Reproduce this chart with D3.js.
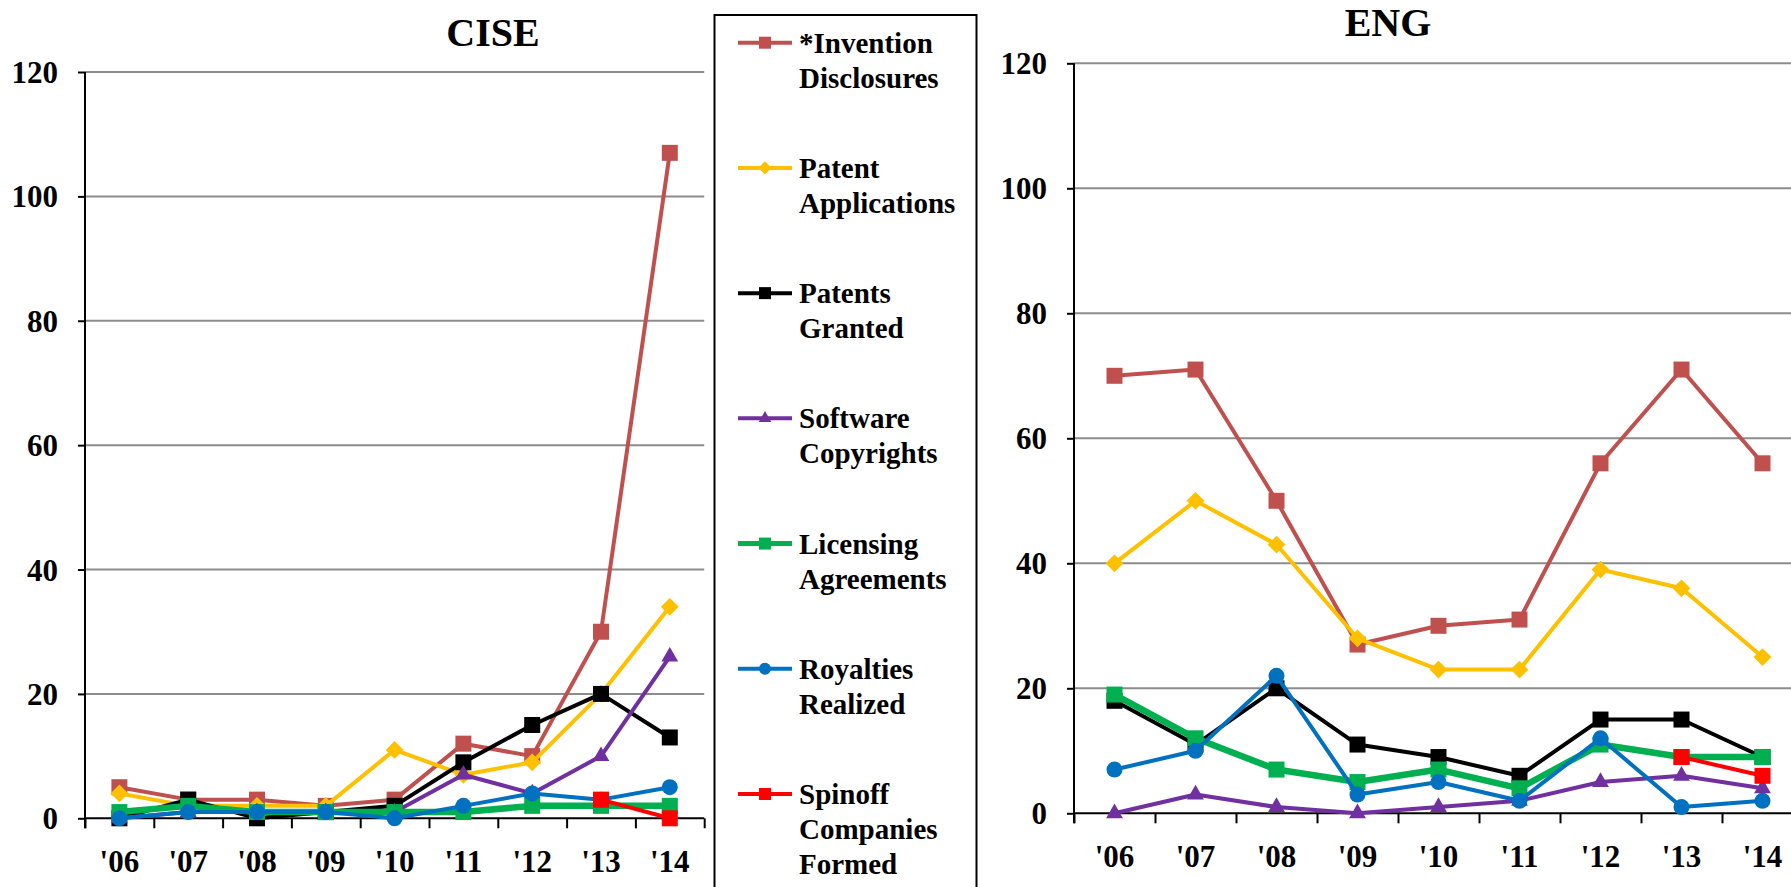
<!DOCTYPE html>
<html><head><meta charset="utf-8">
<script src="https://cdn.jsdelivr.net/npm/d3@7"></script>
<style>
body{margin:0;background:#fff;}
text{font-family:"Liberation Serif","Times New Roman",serif;font-weight:bold;fill:#000;}
</style>
</head><body>
<svg id="c" width="1791" height="887"></svg>
<script>
// ---------- data ----------
const years = ["'06","'07","'08","'09","'10","'11","'12","'13","'14"];
const yTicks = [0,20,40,60,80,100,120];
const seriesNames = [
  ["*Invention","Disclosures"],
  ["Patent","Applications"],
  ["Patents","Granted"],
  ["Software","Copyrights"],
  ["Licensing","Agreements"],
  ["Royalties","Realized"],
  ["Spinoff","Companies","Formed"]
];
const seriesColors = ["#C0504D","#FFC000","#000000","#7030A0","#00B050","#0070C0","#FF0000"];
const seriesMarkers = ["square","diamond","square","triangle","square","circle","square"];

const ciseInvention = [5,3,3,2,3,12,10,30,107];
const cisePatentApps = [4,2,2,2,11,7,9,20,34];
const cisePatentsGranted = [0,3,0,1,2,9,15,20,13];
const ciseSoftware = [0,1,1,1,1,7,4,10,26];
const ciseLicensing = [1,2,1,1,1,1,2,2,2];
const ciseRoyalties = [0,1,1,1,0,2,4,3,5];
const ciseSpinoff = [null,null,null,null,null,null,null,3,0];

const engInvention = [70,71,50,27,30,31,56,71,56];
const engPatentApps = [40,50,43,28,23,23,39,36,25];
const engPatentsGranted = [18,11,20,11,9,6,15,15,9];
const engSoftware = [0,3,1,0,1,2,5,6,4];
const engLicensing = [19,12,7,5,7,4,11,9,9];
const engRoyalties = [7,10,22,3,5,2,12,1,2];
const engSpinoff = [null,null,null,null,null,null,null,9,6];

const ciseSeries = [ciseInvention,cisePatentApps,cisePatentsGranted,ciseSoftware,ciseLicensing,ciseRoyalties,ciseSpinoff];
const engSeries = [engInvention,engPatentApps,engPatentsGranted,engSoftware,engLicensing,engRoyalties,engSpinoff];

// ---------- drawing ----------
const svg = d3.select("#c");

function markerPath(type, s) {
  if (type === "square") return d3.symbol(d3.symbolSquare, s*s)();
  if (type === "diamond") return d3.symbol(d3.symbolSquare, s*s*0.62)();
  if (type === "triangle") return d3.symbol(d3.symbolTriangle, Math.sqrt(3)/4*s*s*1.1)();
  if (type === "circle") return d3.symbol(d3.symbolCircle, Math.PI*(s/2)*(s/2))();
}
const lineWidths = [4,4,4,4,6.5,4,4];

function panel(cfg) {
  const g = svg.append("g");
  const x = d3.scaleBand().domain(years).range([cfg.x0, cfg.x1]).paddingInner(0).paddingOuter(0);
  const y = d3.scaleLinear().domain([0,120]).range([cfg.y0, cfg.yTop]);

  // gridlines
  g.append("g").selectAll("line").data(yTicks.filter(d=>d>0)).join("line")
    .attr("x1", cfg.x0).attr("x2", cfg.x1)
    .attr("y1", d=>y(d)).attr("y2", d=>y(d))
    .attr("stroke","#8c8c8c").attr("stroke-width",2);

  // y axis
  const ya = g.append("g").attr("transform",`translate(${cfg.x0},0)`)
    .call(d3.axisLeft(y).tickValues(yTicks).tickSize(7).tickPadding(20).tickSizeOuter(0));
  ya.select(".domain").attr("stroke","#000").attr("stroke-width",2)
    .attr("d", `M0,${cfg.y0+10}V${cfg.yTop}`);
  ya.selectAll(".tick line").attr("stroke","#000").attr("stroke-width",2);
  ya.selectAll(".tick text").attr("font-size",31).style("font-family",'"Liberation Serif",serif').style("font-weight","bold").attr("dy","0.34em");

  // x axis boundary ticks
  const xb = d3.scaleLinear().domain([0, years.length]).range([cfg.x0, cfg.x0 + x.step()*years.length]);
  const xa = g.append("g").attr("transform",`translate(0,${cfg.y0})`)
    .call(d3.axisBottom(xb).tickValues(d3.range(0, years.length+1)).tickSize(10).tickFormat(""));
  xa.select(".domain").attr("stroke","#000").attr("stroke-width",2)
    .attr("d", `M${cfg.x0},0H${cfg.x1}`);
  xa.selectAll(".tick line").attr("stroke","#000").attr("stroke-width",2);

  // x labels
  const xl = g.append("g").attr("transform",`translate(0,${cfg.y0})`)
    .call(d3.axisBottom(x).tickSize(0).tickPadding(30));
  xl.select(".domain").remove();
  xl.selectAll(".tick text").attr("font-size",31).style("font-family",'"Liberation Serif",serif').style("font-weight","bold").attr("dy","0.75em");

  // title
  g.append("text").attr("x", cfg.titleX).attr("y", cfg.titleY).attr("text-anchor","middle")
    .attr("font-size",40).text(cfg.title);

  // series
  cfg.series.forEach((vals, i) => {
    const pts = vals.map((v,j)=>({v, yr: years[j]}));
    const line = d3.line().defined(d=>d.v!=null)
      .x(d=>x(d.yr)+x.bandwidth()/2).y(d=>y(d.v));
    g.append("path").datum(pts).attr("d", line).attr("fill","none")
      .attr("stroke", seriesColors[i]).attr("stroke-width", lineWidths[i]).attr("stroke-linejoin","round");
    g.append("g").selectAll("path").data(pts.filter(d=>d.v!=null)).join("path")
      .attr("d", markerPath(seriesMarkers[i], 16))
      .attr("transform", d=>`translate(${x(d.yr)+x.bandwidth()/2},${y(d.v)})` + (seriesMarkers[i]==="diamond" ? " rotate(45)" : ""))
      .attr("fill", seriesColors[i]);
  });
}

panel({title:"CISE", titleX:493, titleY:46, x0:85, x1:85+9*68.8, y0:818.3, yTop:72, series:ciseSeries});
panel({title:"ENG", titleX:1388, titleY:36, x0:1074, x1:1074+9*81, y0:813.3, yTop:63.3, series:engSeries});

// legend
const lg = svg.append("g");
lg.append("rect").attr("x",714.5).attr("y",15).attr("width",262).attr("height",900)
  .attr("fill","#fff").attr("stroke","#000").attr("stroke-width",2);
const legendY = d3.scaleLinear().domain([0, seriesNames.length-1]).range([42.7, 794]);
seriesNames.forEach((lines, i) => {
  const yy = legendY(i);
  lg.append("line").attr("x1",738).attr("x2",792).attr("y1",yy).attr("y2",yy)
    .attr("stroke",seriesColors[i]).attr("stroke-width", i===4 ? 5 : 4);
  lg.append("path").attr("d", markerPath(seriesMarkers[i], 12))
    .attr("transform", `translate(765,${yy})` + (seriesMarkers[i]==="diamond" ? " rotate(45)" : ""))
    .attr("fill", seriesColors[i]);
  const t = lg.append("text").attr("x",799).attr("y",yy+10).attr("font-size",29);
  lines.forEach((ln, k) => {
    t.append("tspan").attr("x",799).attr("dy", k===0 ? 0 : 35).text(ln);
  });
});
</script>
</body></html>
